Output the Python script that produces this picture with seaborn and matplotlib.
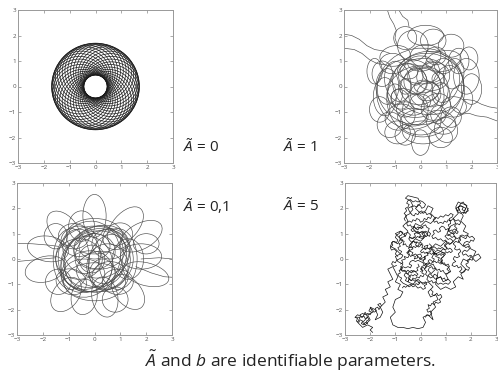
import numpy as np
import pandas as pd
import matplotlib
matplotlib.use("Agg")
import matplotlib.pyplot as plt
from matplotlib.patches import Ellipse, Circle
import seaborn as sns

# ---------------- data ----------------
axis_ticks = [-3, -2, -1, 0, 1, 2, 3]
panel_labels = [r"$\tilde{A}$ = 0", r"$\tilde{A}$ = 1", r"$\tilde{A}$ = 0,1", r"$\tilde{A}$ = 5"]
caption = r"$\tilde{A}$ and $b$ are identifiable parameters."

# Ā = 0 : rosette made of loops enclosing a hole (inner r≈0.45, outer r≈1.7)
rosette_loop_radius = 1.075
rosette_offset = 0.625
rosette_angles_deg = [0, 10, 20, 30, 40, 50, 60, 70, 80, 90, 100, 110, 120, 130,
                      140, 150, 160, 170, 180, 190, 200, 210, 220, 230, 240, 250,
                      260, 270, 280, 290, 300, 310, 320, 330, 340, 350]

# Ā = 1 : tangled loops (cx, cy, width, height, angle)
a1_loops = [
    (0.0, 0.0, 1.6, 1.4, 20), (0.2, -0.3, 1.2, 1.0, 0), (-0.3, 0.3, 1.0, 1.3, 40),
    (-0.5, -0.6, 1.4, 0.9, -30), (0.5, 0.4, 1.3, 1.1, 10), (0.1, 0.6, 1.8, 1.0, 0),
    (-0.2, -0.9, 1.0, 1.2, 0), (0.6, -0.8, 1.2, 1.0, 30), (-0.9, 0.2, 1.0, 1.6, 10),
    (1.0, 0.1, 1.0, 1.5, -20), (-0.1, -0.2, 2.4, 2.0, 15), (0.3, 0.1, 2.8, 2.4, -10),
    (-0.4, -0.3, 2.6, 2.8, 30), (0.0, -1.4, 1.6, 1.0, 0), (-0.8, -1.2, 1.2, 1.0, 20),
    (0.8, -1.4, 1.2, 0.9, -20), (-1.1, 0.9, 1.0, 0.8, 0), (0.9, 1.0, 1.4, 0.8, 10),
    (0.2, 1.2, 1.2, 0.9, 0), (-0.3, 1.6, 1.2, 1.2, 0), (0.5, 1.8, 1.0, 0.9, 0),
    (1.5, 1.0, 0.8, 1.0, 0), (1.8, 0.4, 1.0, 1.4, 0), (1.6, -0.5, 0.9, 1.1, 0),
    (-1.4, -0.4, 0.9, 1.5, 0), (-1.2, -1.5, 1.0, 1.0, 0), (0.0, -2.2, 0.7, 1.0, 0),
    (0.8, -2.0, 0.9, 0.8, 0), (-0.6, -1.9, 0.8, 0.8, 0), (1.2, -1.2, 0.8, 0.8, 0),
    (-1.5, 0.5, 0.8, 1.0, 0), (0.4, -0.5, 0.6, 0.6, 0), (-0.2, 0.4, 0.6, 0.7, 0),
    (0.1, 0.0, 0.7, 0.5, 0), (-0.6, 0.0, 0.5, 0.6, 0), (0.7, 0.3, 0.5, 0.5, 0),
    (0.3, -0.2, 0.9, 0.7, 20), (-0.5, 0.6, 0.8, 0.6, -10), (0.8, -0.3, 0.7, 0.9, 0),
    (-0.8, -0.5, 0.7, 0.8, 30), (0.0, 0.9, 1.0, 0.6, 0), (-0.3, -1.2, 1.2, 0.7, 0),
    (0.6, 1.2, 0.8, 0.7, 0), (-1.0, 1.2, 1.2, 0.8, 10), (1.3, 0.5, 0.8, 1.2, -10),
    (1.3, -0.8, 1.0, 0.8, 0), (-1.6, -0.9, 0.8, 1.0, 0), (-1.3, 0.0, 0.9, 1.4, 0),
    (0.1, -1.8, 1.6, 0.9, 0), (1.0, -1.7, 0.9, 1.0, 20), (-0.9, -1.8, 1.0, 0.9, 0),
    (0.2, 2.0, 1.4, 0.8, 0), (-0.6, 1.9, 0.9, 0.9, 0), (1.2, 1.6, 1.0, 0.9, 0),
    (1.9, 1.1, 0.7, 0.9, 0), (2.0, -0.1, 0.8, 1.2, 0), (-1.8, 0.6, 0.6, 1.0, 0),
    (0.0, 0.0, 3.4, 3.0, 10), (0.2, -0.3, 3.0, 3.4, -20), (-0.2, 0.2, 0.9, 1.0, 0),
    (0.4, 0.6, 0.7, 0.8, 0), (-0.6, -0.9, 0.7, 0.6, 0), (0.7, -1.1, 0.6, 0.7, 0),
    (0.0, -0.6, 0.8, 0.6, 0), (-1.0, -0.3, 0.6, 0.8, 0), (0.9, 0.8, 0.7, 0.6, 0),
]
a1_tails = [
    [(-3.0, 2.05), (-2.7, 2.0), (-2.4, 1.85), (-2.1, 1.6), (-1.8, 1.45), (-1.5, 1.4), (-1.2, 1.3)],
    [(-3.0, 1.5), (-2.6, 1.45), (-2.3, 1.3), (-2.0, 1.05), (-1.7, 0.9), (-1.4, 0.85)],
    [(-1.3, 3.0), (-1.2, 2.7), (-1.05, 2.45), (-0.95, 2.2), (-1.0, 1.9), (-0.9, 1.6)],
    [(-0.85, 3.0), (-0.7, 2.75), (-0.5, 2.6), (-0.45, 2.35)],
    [(1.7, -0.5), (2.1, -0.55), (2.4, -0.7), (2.7, -0.8), (3.0, -0.85)],
    [(1.5, -1.1), (1.9, -1.05), (2.2, -1.15), (2.6, -1.2), (3.0, -1.35)],
]

# Ā = 0,1 : petal loops (cx, cy, width, height, angle)
a01_loops = [
    (0.0, 1.7, 0.9, 1.7, 0), (-1.2, 1.2, 1.0, 1.6, 40), (1.2, 1.3, 1.0, 1.8, -40),
    (1.8, 0.9, 1.0, 1.8, -60), (1.8, 0.1, 1.6, 1.0, 0), (2.0, -0.6, 1.8, 0.9, -15),
    (1.3, -1.3, 1.0, 1.6, 40), (0.4, -1.5, 1.0, 1.6, 10), (-0.4, -1.5, 1.0, 1.4, -10),
    (-1.1, -1.4, 1.0, 1.5, -35), (-1.9, -0.4, 1.6, 1.0, 15), (-1.8, 0.4, 1.6, 1.0, -10),
    (0.0, 0.0, 3.0, 2.6, 0), (0.1, -0.1, 2.6, 2.4, 20), (-0.2, 0.1, 2.4, 2.8, -10),
    (0.3, 0.2, 2.2, 1.8, 30), (-0.3, -0.2, 2.0, 2.2, 0), (0.0, 0.3, 1.6, 1.4, 0),
    (0.2, -0.4, 1.8, 1.4, 10), (-0.5, 0.3, 1.4, 1.8, 20), (0.5, 0.0, 1.4, 2.0, -20),
    (-0.1, 0.0, 1.0, 1.1, 0), (-0.4, -0.6, 1.6, 1.2, 0), (0.6, 0.6, 1.4, 1.2, 0),
    (-0.6, 0.7, 1.4, 1.2, 0), (0.6, -0.7, 1.4, 1.2, 0), (0.0, 0.9, 2.2, 1.4, 0),
    (0.0, -0.9, 2.4, 1.5, 0), (-0.9, 0.0, 1.4, 2.4, 0), (0.9, 0.0, 1.5, 2.4, 0),
    (0.1, 0.1, 2.8, 2.2, 40), (-0.1, -0.1, 2.2, 3.0, -30), (0.2, 0.4, 2.0, 1.6, 0),
    (-0.3, -0.5, 2.0, 1.6, 20), (0.5, -0.3, 1.6, 1.8, 0), (-0.6, 0.0, 1.8, 1.6, 0),
    (0.0, 0.5, 1.2, 1.0, 0), (0.3, -0.6, 1.0, 1.2, 0), (-0.8, 0.9, 1.2, 1.0, 0),
    (0.9, 0.9, 1.2, 1.0, 30), (-0.9, -0.9, 1.2, 1.0, -20), (0.9, -0.9, 1.2, 1.0, 0),
    (-1.5, 0.9, 0.9, 1.0, 0), (2.0, 0.6, 1.0, 0.8, 0), (-0.5, 1.3, 1.0, 1.2, 0),
    (1.3, 0.0, 1.2, 1.6, 0), (-1.4, -0.9, 1.0, 1.0, 0), (0.8, -1.6, 1.0, 1.0, 0),
]
a01_tails = [
    [(-3.0, 0.62), (-2.4, 0.6), (-1.8, 0.55), (-1.4, 0.5)],
    [(-3.0, -0.1), (-2.5, -0.05), (-2.0, 0.0), (-1.5, 0.05)],
    [(1.6, -0.3), (2.2, -0.55), (2.7, -0.7), (3.0, -0.72)],
    [(1.8, 0.0), (2.5, 0.05), (3.0, 0.0)],
]

# Ā = 5 : random-walk-like path, in pieces
walk_main = [
    (-1.9, -2.9), (-2.0, -2.8), (-1.9, -2.7), (-2.1, -2.6), (-2.3, -2.7), (-2.5, -2.5), (-2.4, -2.3),
    (-2.6, -2.3), (-2.5, -2.2), (-2.3, -2.3), (-2.2, -2.1), (-2.1, -2.3), (-2.3, -2.5), (-2.2, -2.6),
    (-2.0, -2.4), (-2.1, -2.2), (-1.9, -2.1), (-2.0, -1.9), (-1.8, -2.0), (-1.7, -2.2), (-1.8, -2.4),
    (-1.6, -2.3), (-1.5, -2.1), (-1.6, -1.9), (-1.4, -1.7), (-1.5, -1.5), (-1.3, -1.4), (-1.4, -1.2),
    (-1.2, -1.1), (-1.3, -0.9), (-1.1, -0.8), (-1.2, -0.6), (-1.3, -0.4), (-1.1, -0.3), (-1.0, -0.5),
    (-0.9, -0.7), (-1.0, -0.9), (-0.8, -1.0), (-0.9, -1.2), (-0.7, -1.3), (-0.8, -1.5), (-1.0, -1.6),
    (-1.1, -1.9), (-1.0, -2.1), (-1.2, -2.3), (-1.1, -2.6), (-0.9, -2.7), (-0.7, -2.7), (-0.5, -2.75),
    (-0.3, -2.7), (-0.1, -2.75), (0.1, -2.7), (0.2, -2.5), (0.1, -2.3), (0.3, -2.2), (0.5, -2.4),
    (0.4, -2.1), (0.6, -1.9), (0.5, -1.7), (0.7, -1.6), (0.6, -1.4), (0.4, -1.5), (0.3, -1.3),
    (0.5, -1.1), (0.3, -0.9), (0.1, -1.0), (-0.1, -0.8), (-0.3, -1.0), (-0.5, -0.9), (-0.4, -0.7),
    (-0.6, -0.5), (-0.8, -0.4), (-0.7, -0.2), (-0.9, -0.1), (-1.0, 0.1), (-0.8, 0.2), (-1.0, 0.4),
    (-1.2, 0.5), (-1.1, 0.7), (-0.9, 0.6), (-0.8, 0.8), (-1.0, 1.0), (-0.8, 1.1), (-0.6, 0.9),
    (-0.5, 1.1), (-0.7, 1.3), (-0.5, 1.5), (-0.6, 1.7), (-0.4, 1.8), (-0.5, 2.0), (-0.3, 2.1),
    (-0.4, 2.3), (-0.6, 2.4), (-0.5, 2.5), (-0.3, 2.45), (-0.1, 2.4), (0.0, 2.2), (-0.2, 2.0),
    (0.0, 1.8), (0.2, 1.9), (0.3, 2.1), (0.5, 2.0), (0.4, 1.8), (0.6, 1.6), (0.4, 1.4),
    (0.2, 1.5), (0.0, 1.3), (-0.2, 1.4), (-0.3, 1.2), (-0.1, 1.0), (0.1, 1.1), (0.2, 0.9),
    (0.0, 0.7), (-0.2, 0.8), (-0.4, 0.6), (-0.3, 0.4), (-0.5, 0.3), (-0.4, 0.1), (-0.2, 0.2),
    (0.0, 0.0), (0.2, 0.1), (0.1, -0.1), (0.3, -0.3), (0.5, -0.2), (0.6, -0.4), (0.4, -0.6),
    (0.6, -0.8), (0.8, -0.7), (0.9, -0.9), (1.1, -0.8), (1.0, -0.6), (1.2, -0.5), (1.1, -0.3),
    (0.9, -0.2), (0.8, 0.0), (1.0, 0.2), (0.8, 0.3), (0.6, 0.2), (0.4, 0.4), (0.6, 0.6),
    (0.8, 0.5), (1.0, 0.7), (1.2, 0.6), (1.4, 0.8), (1.3, 1.0), (1.1, 1.1), (1.2, 1.3),
    (1.4, 1.4), (1.3, 1.6), (1.5, 1.8), (1.4, 2.0), (1.6, 2.1), (1.8, 2.0), (1.7, 1.8),
    (1.9, 1.9), (1.8, 2.15), (1.6, 2.2), (1.5, 2.0), (1.7, 1.7), (1.6, 1.5), (1.8, 1.3),
    (1.7, 1.1), (1.9, 1.0), (1.8, 0.8), (1.6, 0.9), (1.5, 0.7), (1.7, 0.5), (1.9, 0.6),
    (2.0, 0.4), (2.2, 0.3), (2.1, 0.1), (2.3, 0.2), (2.4, 0.05), (2.2, -0.1), (2.0, 0.1),
    (1.9, -0.1), (1.7, 0.0), (1.6, -0.2), (1.8, -0.4), (1.6, -0.6), (1.7, -0.8), (1.5, -0.7),
    (1.3, -0.9), (1.4, -1.1), (1.2, -1.2), (1.0, -1.1), (0.8, -1.2), (0.6, -1.0), (0.7, -0.5),
]
walk_piece_a = [
    (-0.8, -0.2), (-0.7, -0.15), (-0.75, -0.05), (-0.6, 0.0), (-0.65, 0.1), (-0.5, 0.05), (-0.45, 0.15),
    (-0.55, 0.25), (-0.4, 0.3), (-0.3, 0.25), (-0.35, 0.15), (-0.2, 0.1), (-0.25, 0.0), (-0.1, 0.05),
    (-0.15, 0.15), (0.0, 0.2), (0.05, 0.1), (-0.05, 0.0), (0.1, -0.05), (0.2, 0.0), (0.15, 0.1),
    (0.3, 0.15), (0.25, 0.25), (0.4, 0.3), (0.35, 0.4), (0.25, 0.45), (0.3, 0.55), (0.15, 0.5),
    (0.2, 0.4), (0.05, 0.45), (0.1, 0.55), (-0.05, 0.6), (-0.1, 0.5), (-0.2, 0.55), (-0.15, 0.65),
    (-0.3, 0.7), (-0.35, 0.6), (-0.45, 0.55), (-0.4, 0.45), (-0.55, 0.5), (-0.6, 0.6), (-0.7, 0.55),
    (-0.65, 0.7), (-0.8, 0.75), (-0.75, 0.85), (-0.6, 0.9), (-0.65, 1.0), (-0.5, 1.05), (-0.4, 0.95),
    (-0.45, 0.85), (-0.3, 0.8), (-0.2, 0.9), (-0.25, 1.0), (-0.1, 1.05), (0.0, 0.95), (-0.05, 0.85),
    (0.1, 0.8), (0.15, 0.9), (0.05, 1.0), (0.2, 1.1), (0.3, 1.05), (0.25, 0.95), (0.35, 0.9),
]
walk_piece_b = [
    (0.35, 0.6), (0.45, 0.5), (0.4, 0.4), (0.55, 0.35), (0.5, 0.25), (0.65, 0.2), (0.6, 0.1),
    (0.75, 0.05), (0.7, -0.05), (0.85, -0.1), (0.8, -0.2), (0.95, -0.15), (1.0, -0.25), (1.1, -0.2),
    (1.15, -0.3), (1.05, -0.4), (1.15, -0.5), (1.05, -0.6), (0.95, -0.55), (0.9, -0.45), (0.8, -0.5),
    (0.75, -0.4), (0.65, -0.45), (0.6, -0.35), (0.5, -0.4), (0.45, -0.3), (0.35, -0.35), (0.3, -0.45),
    (0.4, -0.55), (0.3, -0.65), (0.4, -0.75), (0.5, -0.7), (0.55, -0.6), (0.65, -0.65), (0.7, -0.75),
    (0.8, -0.7), (0.85, -0.8), (0.95, -0.75), (1.0, -0.85), (1.1, -0.8), (1.2, -0.9), (1.1, -1.0),
    (1.0, -0.95), (0.9, -1.0), (0.8, -0.95), (0.7, -1.0), (0.6, -0.9), (0.5, -0.95), (0.45, -0.85),
    (0.35, -0.9), (0.25, -0.8), (0.3, -0.7), (0.2, -0.6), (0.25, -0.5), (0.15, -0.4), (0.25, -0.3),
    (0.2, -0.2), (0.3, -0.15), (0.4, -0.2), (0.5, -0.1), (0.55, 0.0), (0.45, 0.05), (0.5, 0.15),
    (0.6, 0.3), (0.7, 0.35), (0.8, 0.3), (0.9, 0.4), (1.0, 0.35), (1.05, 0.45), (0.95, 0.55),
]
walk_piece_c = [
    (0.95, 0.55), (1.05, 0.65), (1.0, 0.75), (0.9, 0.7), (0.8, 0.8), (0.7, 0.75), (0.6, 0.85),
    (0.5, 0.8), (0.45, 0.9), (0.55, 1.0), (0.5, 1.1), (0.6, 1.15), (0.7, 1.05), (0.8, 1.1),
    (0.75, 1.2), (0.85, 1.3), (0.95, 1.25), (1.0, 1.15), (1.1, 1.2), (1.15, 1.1), (1.25, 1.15),
    (1.3, 1.05), (1.4, 1.1), (1.45, 1.2), (1.35, 1.3), (1.45, 1.4), (1.55, 1.35), (1.6, 1.45),
    (1.5, 1.55), (1.4, 1.5), (1.3, 1.6), (1.2, 1.5), (1.1, 1.55), (1.05, 1.45), (0.95, 1.5),
    (0.9, 1.4), (0.8, 1.45), (0.7, 1.4), (0.65, 1.5), (0.55, 1.45), (0.5, 1.55), (0.6, 1.65),
    (0.7, 1.6), (0.8, 1.7), (0.9, 1.65), (1.0, 1.75), (1.1, 1.7), (1.2, 1.8), (1.3, 1.75),
    (1.25, 1.65), (1.15, 1.6), (1.2, 1.4), (1.1, 1.35), (1.15, 1.25), (1.05, 1.0), (1.15, 0.95),
    (1.25, 0.85), (1.35, 0.9), (1.45, 0.8), (1.55, 0.85), (1.6, 0.75), (1.5, 0.65), (1.4, 0.7),
    (1.3, 0.6),
]
walk_piece_d = [
    (0.35, 0.9), (0.4, 1.0), (0.3, 1.1), (0.35, 1.2), (0.25, 1.25), (0.2, 1.35), (0.1, 1.3),
    (0.05, 1.2), (-0.05, 1.25), (-0.1, 1.15), (-0.2, 1.2), (-0.25, 1.3), (-0.35, 1.25), (-0.4, 1.35),
    (-0.5, 1.3), (-0.55, 1.4), (-0.45, 1.5), (-0.35, 1.45), (-0.3, 1.55), (-0.2, 1.5), (-0.15, 1.6),
    (-0.05, 1.55), (0.0, 1.45), (0.1, 1.5), (0.15, 1.6), (0.25, 1.55), (0.3, 1.65), (0.4, 1.6),
    (0.45, 1.7), (0.35, 1.8), (0.25, 1.75), (0.2, 1.85), (0.1, 1.8), (0.05, 1.9), (-0.05, 1.85),
    (-0.1, 1.75), (-0.2, 1.8), (-0.25, 1.7), (-0.35, 1.75), (-0.4, 1.85), (-0.3, 1.95), (-0.35, 2.05),
    (-0.25, 2.1), (-0.15, 2.05), (-0.1, 2.15), (0.0, 2.1), (0.05, 2.0), (0.15, 2.05), (0.2, 2.15),
    (0.1, 2.25), (0.0, 2.3), (-0.1, 2.25), (-0.2, 2.3), (-0.3, 2.25), (-0.4, 2.35), (-0.5, 2.3),
    (-0.55, 2.2), (-0.45, 2.15), (-0.5, 2.05), (-0.6, 2.0), (-0.55, 1.9), (-0.65, 1.8), (-0.55, 1.7),
    (-0.65, 1.6), (-0.6, 1.5),
]
walk_piece_e = [
    (-0.1, -0.2), (-0.05, -0.3), (-0.15, -0.35), (-0.1, -0.45), (-0.2, -0.5), (-0.3, -0.45), (-0.35, -0.55),
    (-0.45, -0.5), (-0.5, -0.6), (-0.6, -0.55), (-0.65, -0.65), (-0.55, -0.75), (-0.6, -0.85), (-0.5, -0.9),
    (-0.45, -0.8), (-0.35, -0.85), (-0.3, -0.75), (-0.2, -0.8), (-0.15, -0.7), (-0.05, -0.75), (0.0, -0.65),
    (0.1, -0.7), (0.15, -0.6), (0.05, -0.55), (0.1, -0.45), (0.0, -0.4), (0.05, -0.3), (0.15, -0.25),
    (0.1, -0.15), (0.0, -0.1), (-0.1, -0.05), (-0.2, -0.1), (-0.3, -0.05), (-0.4, -0.1), (-0.45, -0.2),
    (-0.35, -0.25), (-0.4, -0.35), (-0.5, -0.3), (-0.6, -0.35), (-0.7, -0.3), (-0.75, -0.4), (-0.85, -0.45),
    (-0.8, -0.55), (-0.9, -0.6), (-0.85, -0.7), (-0.75, -0.75), (-0.8, -0.85), (-0.7, -0.95), (-0.6, -1.0),
    (-0.5, -1.05), (-0.4, -1.0), (-0.3, -1.1), (-0.2, -1.05), (-0.1, -1.15), (0.0, -1.1), (0.1, -1.2),
    (0.2, -1.15), (0.15, -1.05), (0.25, -1.0), (0.2, -0.9), (0.1, -0.95), (0.0, -0.9), (-0.1, -0.95),
]
walk_piece_f = [
    (1.3, 0.6), (1.4, 0.5), (1.35, 0.4), (1.45, 0.35), (1.55, 0.4), (1.6, 0.3), (1.5, 0.2),
    (1.55, 0.1), (1.45, 0.05), (1.35, 0.1), (1.3, 0.0), (1.4, -0.1), (1.3, -0.15), (1.25, -0.25),
    (1.35, -0.3), (1.45, -0.25), (1.5, -0.35), (1.6, -0.3), (1.65, -0.4), (1.55, -0.5), (1.65, -0.55),
    (1.75, -0.5), (1.8, -0.4), (1.9, -0.45), (1.95, -0.35), (1.85, -0.3), (1.8, -0.2), (1.9, -0.15),
    (1.85, -0.05), (1.95, 0.0), (2.05, -0.05), (2.1, 0.05), (2.0, 0.15), (1.9, 0.1), (1.8, 0.2),
    (1.7, 0.15), (1.65, 0.25), (1.75, 0.35), (1.85, 0.3), (1.95, 0.4), (1.9, 0.5), (1.8, 0.45),
    (1.7, 0.55), (1.75, 0.65), (1.85, 0.7), (1.95, 0.65), (2.0, 0.75), (2.1, 0.7), (2.15, 0.8),
    (2.05, 0.9), (1.95, 0.85), (1.85, 0.95), (1.75, 0.9), (1.65, 0.95), (1.55, 0.9),
]
walk_piece_g = [
    (-2.6, -2.3), (-2.5, -2.35), (-2.55, -2.45), (-2.45, -2.5), (-2.4, -2.4), (-2.3, -2.45), (-2.35, -2.55),
    (-2.25, -2.6), (-2.2, -2.5), (-2.1, -2.55), (-2.15, -2.45), (-2.05, -2.4), (-2.1, -2.3), (-2.2, -2.35),
    (-2.25, -2.25), (-2.35, -2.3), (-2.4, -2.2), (-2.3, -2.15), (-2.2, -2.2), (-2.1, -2.15), (-2.0, -2.2),
    (-1.95, -2.1), (-2.05, -2.05), (-2.0, -1.95), (-1.9, -2.0), (-1.85, -2.1), (-1.75, -2.05), (-1.8, -1.95),
    (-1.7, -1.9), (-1.65, -2.0), (-1.6, -1.9), (-1.7, -1.8), (-1.6, -1.75), (-1.55, -1.85),
]
walk_piece_h = [
    (1.45, 1.9), (1.55, 1.95), (1.5, 2.05), (1.6, 2.1), (1.7, 2.05), (1.65, 1.95), (1.75, 1.9),
    (1.8, 2.0), (1.85, 2.1), (1.75, 2.15), (1.7, 2.25), (1.6, 2.2), (1.5, 2.25), (1.45, 2.15),
    (1.4, 2.05), (1.5, 1.85), (1.6, 1.8), (1.7, 1.85), (1.8, 1.8), (1.85, 1.9), (1.9, 2.0),
]
walk_piece_i = [
    (-0.9, 0.1), (-1.0, 0.2), (-0.95, 0.3), (-1.05, 0.4), (-1.15, 0.35), (-1.2, 0.45), (-1.1, 0.55),
    (-1.15, 0.65), (-1.05, 0.7), (-0.95, 0.65), (-0.9, 0.75), (-1.0, 0.85), (-0.95, 0.95), (-0.85, 1.0),
    (-0.8, 1.1), (-0.7, 1.05), (-0.75, 0.95), (-0.85, 0.9), (-0.8, 0.8), (-0.7, 0.75), (-0.75, 0.65),
    (-0.85, 0.6), (-0.8, 0.5), (-0.9, 0.45), (-0.85, 0.35), (-0.75, 0.3), (-0.8, 0.2), (-0.7, 0.15),
    (-0.75, 0.05), (-0.85, 0.0), (-0.95, -0.05), (-1.0, -0.15), (-1.1, -0.1), (-1.15, -0.2), (-1.05, -0.3),
    (-0.95, -0.25),
]
walk_piece_j = [
    (0.4, -1.2), (0.5, -1.3), (0.45, -1.4), (0.55, -1.45), (0.65, -1.35), (0.7, -1.45), (0.8, -1.4),
    (0.85, -1.5), (0.75, -1.6), (0.8, -1.7), (0.7, -1.75), (0.6, -1.7), (0.55, -1.8), (0.45, -1.75),
    (0.4, -1.85), (0.3, -1.8), (0.35, -1.95), (0.25, -2.0), (0.3, -2.1), (0.4, -2.05), (0.45, -2.15),
    (0.35, -2.25), (0.25, -2.2), (0.2, -2.3),
]
walk_piece_k = [
    (0.0, -0.5), (0.07, -0.45), (0.03, -0.38), (0.1, -0.33), (0.17, -0.38), (0.22, -0.31), (0.16, -0.25),
    (0.22, -0.18), (0.3, -0.22), (0.36, -0.15), (0.3, -0.08), (0.37, -0.02), (0.44, -0.07), (0.5, -0.13),
    (0.57, -0.08), (0.63, -0.15), (0.7, -0.1), (0.75, -0.17), (0.82, -0.12), (0.88, -0.05), (0.82, 0.02),
    (0.9, 0.08), (0.95, 0.15), (0.88, 0.2), (0.82, 0.14), (0.75, 0.2), (0.68, 0.14), (0.62, 0.21),
    (0.55, 0.16), (0.5, 0.23), (0.43, 0.18), (0.37, 0.25), (0.3, 0.2), (0.24, 0.27), (0.17, 0.22),
    (0.12, 0.29), (0.05, 0.24), (0.0, 0.3), (0.06, 0.37), (0.13, 0.42), (0.2, 0.37), (0.27, 0.44),
    (0.34, 0.4), (0.4, 0.47), (0.47, 0.42), (0.53, 0.49), (0.6, 0.44), (0.66, 0.38), (0.72, 0.44),
    (0.79, 0.4), (0.85, 0.46), (0.92, 0.41), (0.98, 0.35),
]
walk_piece_l = [
    (-0.5, 0.3), (-0.43, 0.36), (-0.48, 0.43), (-0.4, 0.48), (-0.33, 0.43), (-0.27, 0.5), (-0.2, 0.45),
    (-0.14, 0.52), (-0.07, 0.47), (0.0, 0.53), (0.07, 0.6), (0.0, 0.66), (-0.07, 0.62), (-0.14, 0.68),
    (-0.21, 0.63), (-0.28, 0.7), (-0.35, 0.66), (-0.42, 0.73), (-0.47, 0.8), (-0.4, 0.86), (-0.33, 0.81),
    (-0.26, 0.87), (-0.19, 0.82), (-0.12, 0.89), (-0.05, 0.85), (0.02, 0.91), (0.09, 0.86), (0.16, 0.93),
    (0.23, 0.88), (0.29, 0.95), (0.24, 1.02), (0.17, 1.07), (0.1, 1.02), (0.03, 1.08), (-0.04, 1.03),
    (-0.11, 1.1), (-0.18, 1.05), (-0.25, 1.12), (-0.32, 1.08), (-0.38, 1.15), (-0.31, 1.21), (-0.24, 1.26),
    (-0.17, 1.2), (-0.1, 1.27), (-0.03, 1.22), (0.04, 1.28), (0.11, 1.23),
]
walk_piece_m = [
    (0.8, 0.2), (0.87, 0.27), (0.94, 0.22), (1.0, 0.29), (1.07, 0.24), (1.14, 0.3), (1.2, 0.25),
    (1.27, 0.31), (1.23, 0.38), (1.16, 0.43), (1.1, 0.38), (1.03, 0.45), (0.96, 0.5), (1.02, 0.57),
    (1.09, 0.62), (1.16, 0.57), (1.23, 0.64), (1.3, 0.69), (1.24, 0.76), (1.17, 0.81), (1.1, 0.77),
    (1.03, 0.84), (0.97, 0.9), (1.04, 0.96), (1.11, 0.92), (1.18, 0.98), (1.25, 1.03), (1.32, 0.98),
    (1.38, 1.05), (1.45, 1.0), (1.5, 1.07), (1.43, 1.13), (1.36, 1.19), (1.29, 1.14),
]
walk_piece_n = [
    (-0.8, -0.3), (-0.73, -0.37), (-0.78, -0.44), (-0.7, -0.49), (-0.63, -0.44), (-0.56, -0.5), (-0.5, -0.44),
    (-0.43, -0.5), (-0.36, -0.45), (-0.3, -0.52), (-0.23, -0.47), (-0.17, -0.54), (-0.1, -0.6), (-0.16, -0.66),
    (-0.23, -0.61), (-0.3, -0.67), (-0.37, -0.62), (-0.44, -0.68), (-0.5, -0.74), (-0.44, -0.8), (-0.37, -0.86),
    (-0.3, -0.81), (-0.23, -0.88), (-0.16, -0.83), (-0.09, -0.9), (-0.03, -0.96), (-0.1, -1.02), (-0.17, -0.97),
    (-0.24, -1.03), (-0.31, -0.98), (-0.38, -1.05), (-0.45, -1.1), (-0.52, -1.05), (-0.59, -1.12), (-0.66, -1.07),
    (-0.72, -1.14),
]
walk_pieces = [walk_main, walk_piece_a, walk_piece_b, walk_piece_c, walk_piece_d,
               walk_piece_e, walk_piece_f, walk_piece_g, walk_piece_h, walk_piece_i,
               walk_piece_j, walk_piece_k, walk_piece_l, walk_piece_m, walk_piece_n]

# ---------------- style ----------------
sns.set_theme(style="ticks")
plt.rcParams["font.family"] = ["Open Sans", "DejaVu Sans"]
plt.rcParams["mathtext.fontset"] = "custom"
plt.rcParams["mathtext.it"] = "Open Sans:italic"
plt.rcParams["mathtext.rm"] = "Open Sans"

fig = plt.figure(figsize=(4.98, 3.78), dpi=100)
W, H = 498.0, 378.0


def make_ax(left, top, right, bottom):
    return fig.add_axes([left / W, 1 - bottom / H, (right - left) / W, (bottom - top) / H])


ax1 = make_ax(18, 10, 173, 163)
ax2 = make_ax(344, 10, 497, 163)
ax3 = make_ax(17, 183, 172, 335)
ax4 = make_ax(345, 183, 496, 335)

# panel 1: rosette
for a in rosette_angles_deg:
    t = np.deg2rad(a)
    ax1.add_patch(Circle((rosette_offset * np.cos(t), rosette_offset * np.sin(t)),
                         rosette_loop_radius, fill=False, ec="#1a1a1a", lw=0.5))

# panel 2
for cx, cy, w, h, an in a1_loops:
    ax2.add_patch(Ellipse((cx, cy), w, h, angle=an, fill=False, ec="#4a4a4a", lw=0.45))
for tail in a1_tails:
    tdf = pd.DataFrame(tail, columns=["x", "y"])
    sns.lineplot(data=tdf, x="x", y="y", ax=ax2, sort=False, estimator=None, color="#4a4a4a", lw=0.45)

# panel 3
for cx, cy, w, h, an in a01_loops:
    ax3.add_patch(Ellipse((cx, cy), w, h, angle=an, fill=False, ec="#4a4a4a", lw=0.45))
for tail in a01_tails:
    tdf = pd.DataFrame(tail, columns=["x", "y"])
    sns.lineplot(data=tdf, x="x", y="y", ax=ax3, sort=False, estimator=None, color="#4a4a4a", lw=0.45)

# panel 4
for piece in walk_pieces:
    wdf = pd.DataFrame(piece, columns=["x", "y"])
    sns.lineplot(data=wdf, x="x", y="y", ax=ax4, sort=False, estimator=None,
                 color="#111111", lw=0.5)

for ax in (ax1, ax2, ax3, ax4):
    ax.set_xlim(-3, 3)
    ax.set_ylim(-3, 3)
    ax.set_xticks(axis_ticks)
    ax.set_yticks(axis_ticks)
    ax.set_xlabel("")
    ax.set_ylabel("")
    ax.tick_params(direction="in", length=2, width=0.5, labelsize=4.5,
                   colors="#888888", labelcolor="#555555", pad=1.5,
                   top=True, right=True)
    for s in ax.spines.values():
        s.set_visible(True)
        s.set_color("#999999")
        s.set_linewidth(0.7)

# labels
fig.text(183 / W, 1 - 147 / H, panel_labels[0], fontsize=11, va="center", ha="left", color="#222222")
fig.text(283 / W, 1 - 147 / H, panel_labels[1], fontsize=11, va="center", ha="left", color="#222222")
fig.text(183 / W, 1 - 206 / H, panel_labels[2], fontsize=11, va="center", ha="left", color="#222222")
fig.text(283 / W, 1 - 206 / H, panel_labels[3], fontsize=11, va="center", ha="left", color="#222222")
fig.text(290 / W, 1 - 361 / H, caption, fontsize=12.5, va="center", ha="center", color="#222222")

fig.savefig("out.png", dpi=100)
